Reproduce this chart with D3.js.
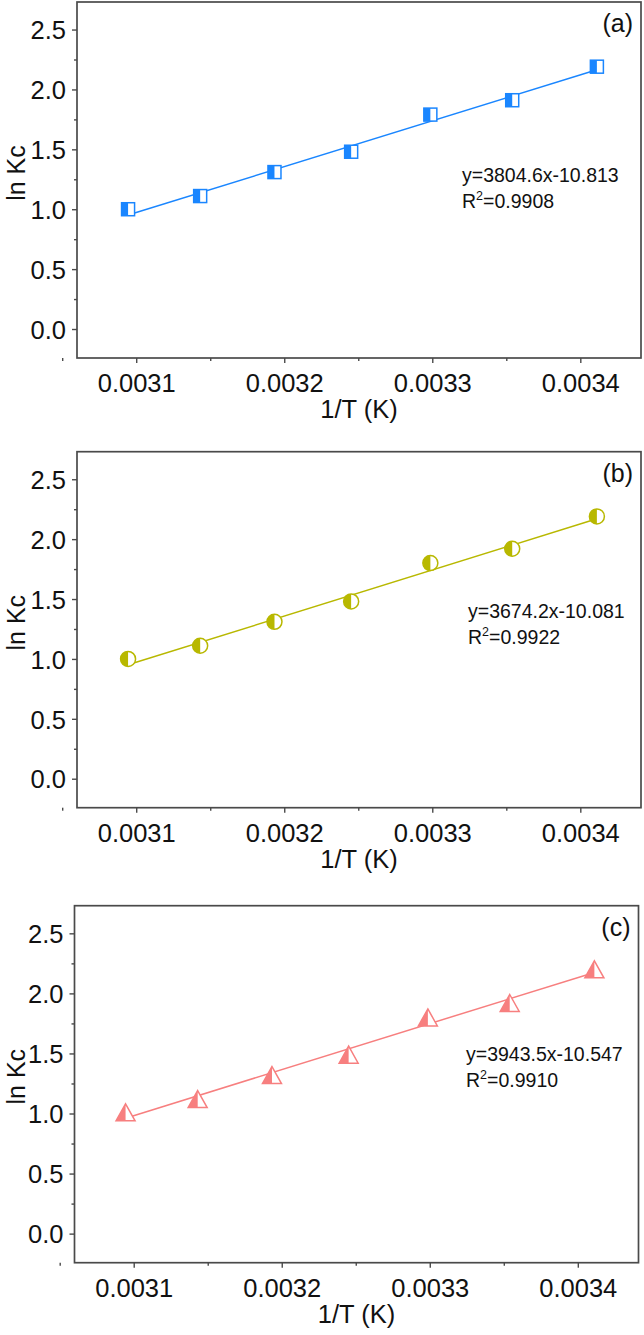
<!DOCTYPE html>
<html>
<head>
<meta charset="utf-8">
<script src="https://cdn.jsdelivr.net/npm/d3@7/dist/d3.min.js"></script>
<style>
  html, body { margin: 0; padding: 0; background: #fff; }
  svg { display: block; }
  text { font-family: "Liberation Sans", Arial, sans-serif; fill: #111; }
</style>
</head>
<body>
<svg id="chart" width="644" height="1335"></svg>
<script>
// ---- data ----
const invT = [0.0030945, 0.0031432, 0.0031934, 0.0032452, 0.0032987, 0.0033540, 0.0034112];
const lnKcA = [1.00, 1.11, 1.31, 1.48, 1.79, 1.91, 2.19];
const lnKcB = [1.00, 1.11, 1.31, 1.48, 1.80, 1.92, 2.19];
const lnKcC = [1.01, 1.12, 1.32, 1.49, 1.80, 1.92, 2.20];
const xTicks = [0.0031, 0.0032, 0.0033, 0.0034];
const xMinorTicks = [0.00305, 0.00315, 0.00325, 0.00335];
const yTicks = [0.0, 0.5, 1.0, 1.5, 2.0, 2.5];
const yMinorTicks = [0.25, 0.75, 1.25, 1.75, 2.25];
const panelLabels = ["(a)", "(b)", "(c)"];
const equations = ["y=3804.6x-10.813", "y=3674.2x-10.081", "y=3943.5x-10.547"];
const r2Values = ["0.9908", "0.9922", "0.9910"];
const seriesColors = ["#1a86ff", "#b8b800", "#f77f7f"];
const markerShapes = ["square", "circle", "triangle"];
const xLabel = "1/T (K)";
const yLabel = "ln Kc";

// ---- layout ----
const panels = [
  { top: 2,     left: 77,   right: 641,   height: 356, eqY: 180, values: lnKcA, eqX: 462 },
  { top: 451.7, left: 77,   right: 641,   height: 356, eqY: 166, values: lnKcB, eqX: 468 },
  { top: 905.7, left: 74.5, right: 638.5, height: 357, eqY: 155, values: lnKcC, eqX: 466 }
];
const xDomain = [0.003060, 0.003441];
const yDomain = [-0.242, 2.73];
const frameColor = "#4a4a4a";
const tickFont = 25.5;

const svg = d3.select("#chart");

function linFit(xs, ys) {
  const n = xs.length;
  const mx = d3.mean(xs), my = d3.mean(ys);
  let sxy = 0, sxx = 0;
  for (let i = 0; i < n; i++) { sxy += (xs[i]-mx)*(ys[i]-my); sxx += (xs[i]-mx)*(xs[i]-mx); }
  const b = sxy / sxx;
  return { slope: b, intercept: my - b*mx };
}

panels.forEach((p, i) => {
  const color = seriesColors[i];
  const x = d3.scaleLinear().domain(xDomain).range([p.left, p.right]);
  const y = d3.scaleLinear().domain(yDomain).range([p.top + p.height, p.top]);
  const g = svg.append("g");

  // frame
  g.append("rect")
    .attr("x", p.left).attr("y", p.top)
    .attr("width", p.right - p.left).attr("height", p.height)
    .attr("fill", "none").attr("stroke", frameColor).attr("stroke-width", 1.7);

  // axes
  const bottom = p.top + p.height;
  const xAxis = g.append("g").attr("transform", `translate(0,${bottom})`)
    .call(d3.axisBottom(x).tickValues(xTicks).tickSize(5).tickPadding(10).tickFormat(d3.format(".4f")));
  xAxis.selectAll("text").attr("y", 34).attr("dy", 0);
  g.append("g").attr("transform", `translate(0,${bottom})`)
    .call(d3.axisBottom(x).tickValues(xMinorTicks).tickSize(3).tickFormat(""));
  const yAxis = g.append("g").attr("transform", `translate(${p.left},0)`)
    .call(d3.axisLeft(y).tickValues(yTicks).tickSize(5).tickPadding(6).tickFormat(d3.format(".1f")));
  yAxis.selectAll("text").attr("dy", "0.36em");
  g.append("g").attr("transform", `translate(${p.left},0)`)
    .call(d3.axisLeft(y).tickValues(yMinorTicks).tickSize(3).tickFormat(""));
  g.selectAll(".domain").remove();
  g.selectAll(".tick line").attr("stroke", frameColor).attr("stroke-width", 1.4);
  g.selectAll(".tick text").attr("font-size", tickFont).attr("fill", "#111")
    .attr("font-family", '"Liberation Sans", Arial, sans-serif');

  // axis titles
  g.append("text")
    .attr("x", (p.left + p.right) / 2).attr("y", bottom + 60)
    .attr("text-anchor", "middle").attr("font-size", 25.5).text(xLabel);
  g.append("text")
    .attr("transform", `translate(25,${p.top + 171}) rotate(-90)`)
    .attr("text-anchor", "middle").attr("font-size", 25).text(yLabel);

  // panel label
  g.append("text")
    .attr("x", p.right - 8).attr("y", p.top + 30)
    .attr("text-anchor", "end").attr("font-size", 25).text(panelLabels[i]);

  // fit line
  const fit = linFit(invT, p.values);
  const x0 = d3.min(invT), x1 = d3.max(invT);
  g.append("line")
    .attr("x1", x(x0)).attr("y1", y(fit.intercept + fit.slope * x0))
    .attr("x2", x(x1)).attr("y2", y(fit.intercept + fit.slope * x1))
    .attr("stroke", color).attr("stroke-width", 1.5);

  // markers
  invT.forEach((xv, k) => {
    const cx = x(xv), cy = y(p.values[k]);
    const m = g.append("g").attr("transform", `translate(${cx},${cy})`);
    const shape = markerShapes[i];
    if (shape === "square") {
      const s = 6.5;
      m.append("rect").attr("x", -s).attr("y", -s).attr("width", 2*s).attr("height", 2*s)
        .attr("fill", "#fff").attr("stroke", color).attr("stroke-width", 1.5);
      m.append("rect").attr("x", -s).attr("y", -s).attr("width", s).attr("height", 2*s)
        .attr("fill", color);
    } else if (shape === "circle") {
      const r = 7.5;
      m.append("circle").attr("r", r).attr("fill", "#fff").attr("stroke", color).attr("stroke-width", 1.5);
      m.append("path").attr("d", `M0,${-r} A${r},${r} 0 0 0 0,${r} Z`).attr("fill", color);
    } else {
      const w = 9.5, h = 8.5;
      m.append("path").attr("d", `M0,${-h} L${w},${h} L${-w},${h} Z`)
        .attr("fill", "#fff").attr("stroke", color).attr("stroke-width", 1.5).attr("stroke-linejoin", "miter");
      m.append("path").attr("d", `M0,${-h} L0,${h} L${-w},${h} Z`).attr("fill", color);
    }
  });

  // equation annotation
  g.append("text")
    .attr("x", p.eqX).attr("y", p.top + p.eqY)
    .attr("font-size", 19.5).text(equations[i]);
  const r2 = g.append("text")
    .attr("x", p.eqX).attr("y", p.top + p.eqY + 26)
    .attr("font-size", 19.5);
  r2.append("tspan").text("R");
  r2.append("tspan").attr("font-size", 12.5).attr("dy", -8).text("2");
  r2.append("tspan").attr("dy", 8).text("=" + r2Values[i]);
});
</script>
</body>
</html>
